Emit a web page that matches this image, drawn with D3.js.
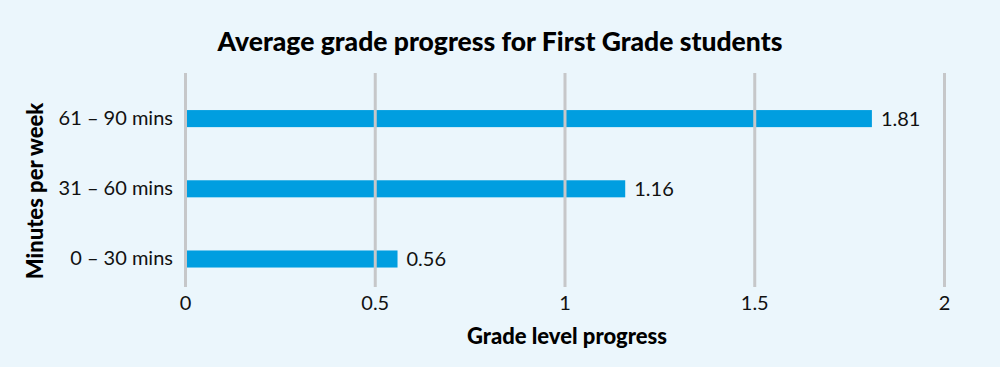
<!DOCTYPE html>
<html>
<head>
<meta charset="utf-8">
<script src="https://cdn.jsdelivr.net/npm/d3@7"></script>
<style>
  html, body { margin: 0; padding: 0; background: #ebf6fc; }
  svg { display: block; }
</style>
</head>
<body>
<svg id="chart" width="1000" height="367"></svg>
<script>
const categories = ["61 – 90 mins", "31 – 60 mins", "0 – 30 mins"];
const values = [1.81, 1.16, 0.56];
const xTicks = [0, 0.5, 1, 1.5, 2];
const title = "Average grade progress for First Grade students";
const xTitle = "Grade level progress";
const yTitle = "Minutes per week";

const W = 1000, H = 367;
const font = "Lato, 'Open Sans', sans-serif";
const svg = d3.select("#chart");
svg.append("rect").attr("width", W).attr("height", H).attr("fill", "#ebf6fc");

const x = d3.scaleLinear().domain([0, 2]).range([185, 944]);
const y = d3.scaleBand().domain(categories).range([83.5, 294.1])
  .paddingInner(0.757).paddingOuter(0.3785);
const gridTop = 73, gridBottom = 287;

// bars
svg.append("g").selectAll("rect").data(categories).join("rect")
  .attr("x", x(0) + 1.5)
  .attr("y", d => y(d))
  .attr("width", (d, i) => x(values[i]) - x(0) - 1.5)
  .attr("height", y.bandwidth())
  .attr("fill", "#009ee0");

// gridlines (on top of bars)
const xAxis = d3.axisBottom(x).tickValues(xTicks)
  .tickSize(-(gridBottom - gridTop)).tickPadding(9)
  .tickFormat(d3.format("~g"));
const gx = svg.append("g").attr("transform", `translate(0,${gridBottom})`).call(xAxis);
gx.select(".domain").remove();
gx.selectAll(".tick line").attr("stroke", "#c6c7c9").attr("stroke-width", 3);
gx.selectAll(".tick text").attr("font-family", font).attr("font-size", 20)
  .attr("fill", "#111");

// y axis labels
const yAxis = d3.axisLeft(y).tickSize(0).tickPadding(12);
const gy = svg.append("g").attr("transform", `translate(${x(0)},0)`).call(yAxis);
gy.select(".domain").remove();
gy.selectAll(".tick text").attr("font-family", font).attr("font-size", 20)
  .attr("fill", "#111");

// value labels
svg.append("g").selectAll("text").data(categories).join("text")
  .attr("x", (d, i) => x(values[i]) + 9)
  .attr("y", d => y(d) + y.bandwidth() / 2)
  .attr("dy", "0.35em")
  .attr("font-family", font).attr("font-size", 20).attr("fill", "#111")
  .text((d, i) => d3.format(".2f")(values[i]));

// title
svg.append("text").attr("x", 500).attr("y", 51).attr("text-anchor", "middle")
  .attr("font-family", font).attr("font-weight", 900).attr("font-size", 26.5)
  .attr("fill", "#000").text(title);

// x title
svg.append("text").attr("x", 567).attr("y", 344).attr("text-anchor", "middle")
  .attr("font-family", font).attr("font-weight", 900).attr("font-size", 22)
  .attr("fill", "#000").text(xTitle);

// y title
svg.append("text").attr("transform", `translate(43,191) rotate(-90)`)
  .attr("text-anchor", "middle")
  .attr("font-family", font).attr("font-weight", 900).attr("font-size", 22)
  .attr("fill", "#000").text(yTitle);
</script>
</body>
</html>
